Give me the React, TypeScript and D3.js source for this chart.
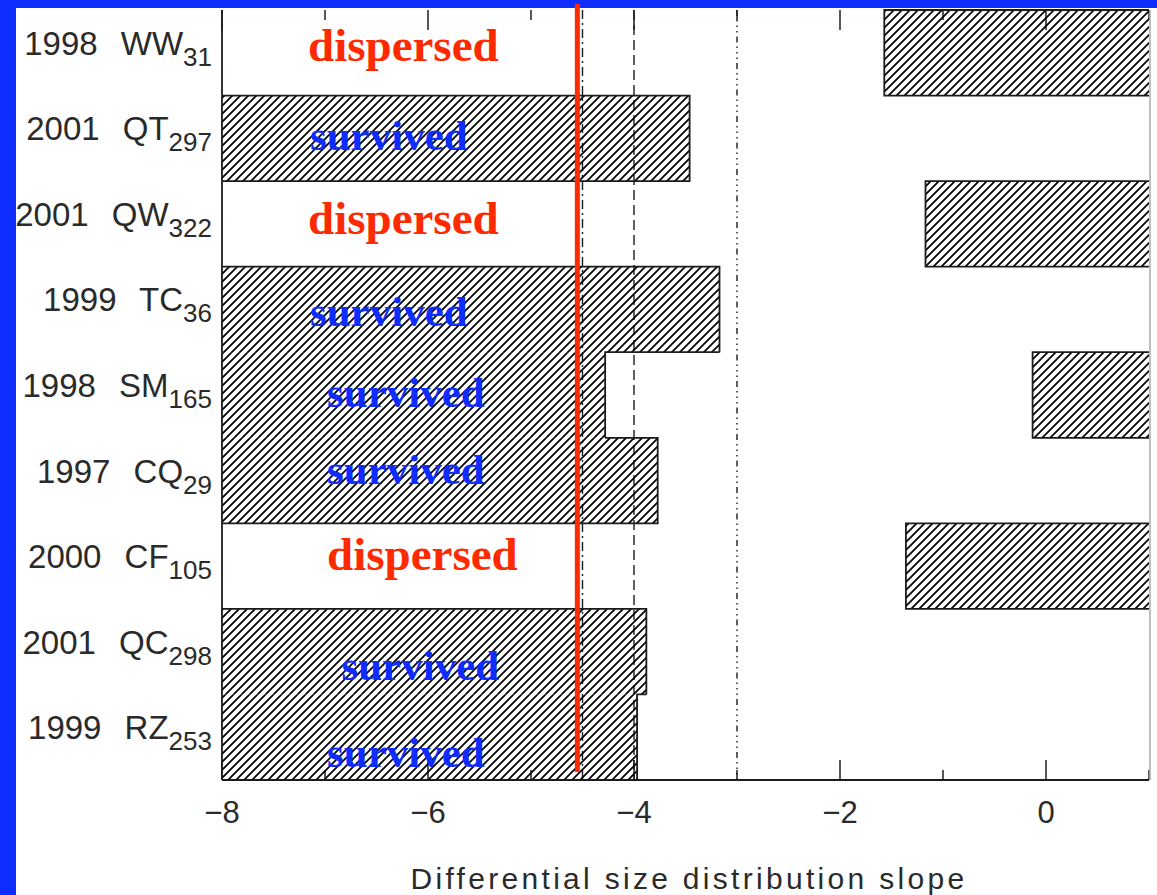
import React from "react";
import * as d3 from "d3";

// ---- data ----
const years = ["1998", "2001", "2001", "1999", "1998", "1997", "2000", "2001", "1999"];
const designations = ["WW", "QT", "QW", "TC", "SM", "CQ", "CF", "QC", "RZ"];
const subscripts = ["31", "297", "322", "36", "165", "29", "105", "298", "253"];
const fate = ["dispersed", "survived", "dispersed", "survived", "survived", "survived", "dispersed", "survived", "survived"];
// bar from axis minimum up to this slope (left, hatched)
const survivedSlope: (number | null)[] = [null, -3.46, null, -3.17, -4.28, -3.77, null, -3.88, -3.97];
// bar from this slope to the axis maximum (right, hatched)
const dispersedSlope: (number | null)[] = [-1.57, null, -1.17, null, -0.13, null, -1.36, null, null];
const majorTicks = [-8, -6, -4, -2, 0];
const minorTicks = [-7, -5, -3, -1, 1];
const tickLabels = ["\u22128", "\u22126", "\u22124", "\u22122", "0"];
const redLineSlope = -4.55;
const refLineSlopes = [-4.5, -4, -3];
const xTitle = "Differential size distribution slope";
// annotation anchor (data units, text start) and vertical offset within row
const annotationX = [-7.165, -7.146, -7.165, -7.146, -6.98, -6.98, -6.98, -6.84, -6.98];
const annotationDy = [8, 12, 10, 17, 12, 3, 4, 28, 30];

const W = 1157;
const H = 895;
const BLUE = "#0f2dff";
const RED = "#ff2a00";
const INK = "#1c1c1c";

export default function App() {
  const x = d3.scaleLinear().domain([-8, 1]).range([222, 1149]);
  const rows = d3.range(years.length);
  const y = d3.scaleBand<number>().domain(rows).range([10, 780]).padding(0);
  const bw = y.bandwidth();
  const x0 = x(-8);
  const x1 = x(1);
  const yTop = 10;
  const yBot = 780;

  // outline for the stepped left bars
  const p = d3.path();
  rows.forEach((i) => {
    const v = survivedSlope[i];
    if (v == null) return;
    const t = y(i)!;
    const b = t + bw;
    const prev = i > 0 ? survivedSlope[i - 1] : null;
    const next = i < rows.length - 1 ? survivedSlope[i + 1] : null;
    p.moveTo(prev != null ? x(prev) : x0, t);
    p.lineTo(x(v), t);
    p.lineTo(x(v), b);
    if (next == null) p.lineTo(x0, b);
  });
  const leftOutline = p.toString();

  const dashes = ["9,4,2,4", "10,5", "6,4,1.5,4,1.5,4,1.5,4"];

  return (
    <svg
      width={W}
      height={H}
      style={{ position: "absolute", left: 0, top: 0, background: "#fff" }}
      xmlns="http://www.w3.org/2000/svg"
    >
      <defs>
        <pattern id="hatch" patternUnits="userSpaceOnUse" width={8} height={8}>
          <path d="M-2,2 l4,-4 M0,8 l8,-8 M6,10 l4,-4" stroke="#000" strokeWidth={1.7} />
        </pattern>
      </defs>
      <rect x={0} y={0} width={W} height={H} fill="#fff" />

      {/* ticks */}
      <g stroke={INK} strokeWidth={1.5}>
        {majorTicks.map((t) => (
          <g key={"M" + t}>
            <line x1={x(t)} x2={x(t)} y1={yBot} y2={yBot - 20} />
            <line x1={x(t)} x2={x(t)} y1={yTop} y2={yTop + 20} />
          </g>
        ))}
        {minorTicks.map((t) => (
          <g key={"m" + t}>
            <line x1={x(t)} x2={x(t)} y1={yBot} y2={yBot - 10} />
            <line x1={x(t)} x2={x(t)} y1={yTop} y2={yTop + 10} />
          </g>
        ))}
      </g>

      {/* reference lines */}
      {refLineSlopes.map((v, k) => (
        <line
          key={"r" + v}
          x1={x(v)}
          x2={x(v)}
          y1={yTop}
          y2={yBot}
          stroke={INK}
          strokeWidth={1.4}
          strokeDasharray={dashes[k]}
        />
      ))}

      {/* bars */}
      {rows.map((i) =>
        survivedSlope[i] != null ? (
          <rect
            key={"s" + i}
            x={x0}
            y={y(i)}
            width={x(survivedSlope[i] as number) - x0}
            height={bw}
            fill="url(#hatch)"
          />
        ) : null
      )}
      <path d={leftOutline} fill="none" stroke={INK} strokeWidth={1.8} />
      {rows.map((i) =>
        dispersedSlope[i] != null ? (
          <g key={"d" + i}>
            <rect
              x={x(dispersedSlope[i] as number)}
              y={y(i)}
              width={x1 - x(dispersedSlope[i] as number)}
              height={bw}
              fill="url(#hatch)"
            />
            <path
              d={`M${x1},${y(i)}H${x(dispersedSlope[i] as number)}V${y(i)! + bw}H${x1}`}
              fill="none"
              stroke={INK}
              strokeWidth={1.8}
            />
          </g>
        ) : null
      )}

      {/* frame */}
      <line x1={x0} x2={x0} y1={yTop} y2={yBot} stroke={INK} strokeWidth={1.8} />
      <line x1={x0} x2={x1} y1={yBot} y2={yBot} stroke={INK} strokeWidth={1.8} />
      <line x1={x1 + 1} x2={x1 + 1} y1={yTop} y2={yBot} stroke="#aaa" strokeWidth={1.5} />

      {/* tick labels */}
      {majorTicks.map((t, k) => (
        <text
          key={"tl" + t}
          x={x(t)}
          y={823}
          textAnchor="middle"
          fontFamily="Liberation Sans, Arial, sans-serif"
          fontSize={31}
          fill="#2a2a2a"
        >
          {tickLabels[k]}
        </text>
      ))}
      <text
        x={689}
        y={889}
        textAnchor="middle"
        fontFamily="Liberation Sans, Arial, sans-serif"
        fontSize={30}
        letterSpacing={3.3}
        fill="#2a2a2a"
      >
        {xTitle}
      </text>

      {/* row labels */}
      {rows.map((i) => (
        <text
          key={"l" + i}
          x={212}
          y={y(i)! + bw / 2 + 2}
          textAnchor="end"
          fontFamily="Liberation Sans, Arial, sans-serif"
          fontSize={33}
          fill="#2a2a2a"
          style={{ wordSpacing: "14px" }}
        >
          {years[i] + " " + designations[i]}
          <tspan fontSize={26} dy={11}>
            {subscripts[i]}
          </tspan>
        </text>
      ))}

      {/* blue frame */}
      <rect x={0} y={0} width={W} height={8} fill={BLUE} />
      <rect x={0} y={0} width={16} height={H} fill={BLUE} />

      {/* red threshold line */}
      <line x1={x(redLineSlope)} x2={x(redLineSlope)} y1={4} y2={772} stroke={RED} strokeWidth={5} />

      {/* annotations */}
      {rows.map((i) => (
        <text
          key={"a" + i}
          x={x(annotationX[i])}
          y={y(i)! + bw / 2 + annotationDy[i]}
          fontFamily="Liberation Serif, Times New Roman, serif"
          fontWeight="bold"
          fontSize={fate[i] === "dispersed" ? 47 : 43}
          fill={fate[i] === "dispersed" ? RED : BLUE}
        >
          {fate[i]}
        </text>
      ))}
    </svg>
  );
}
